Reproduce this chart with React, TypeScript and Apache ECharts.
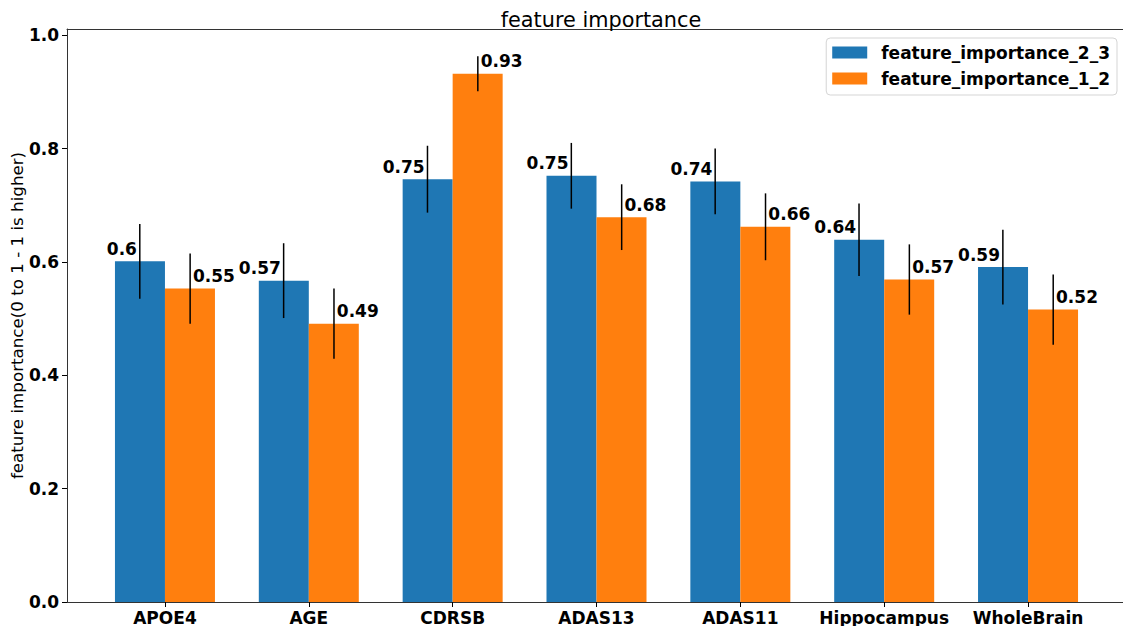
import React, { useEffect, useRef } from "react";
import * as echarts from "echarts";

const categories = ["APOE4", "AGE", "CDRSB", "ADAS13", "ADAS11", "Hippocampus", "WholeBrain"];
const fi23 = [0.601, 0.567, 0.746, 0.752, 0.742, 0.639, 0.591];
const fi12 = [0.553, 0.491, 0.932, 0.679, 0.662, 0.569, 0.516];
const err23 = [0.066, 0.066, 0.059, 0.058, 0.058, 0.064, 0.066];
const err12 = [0.062, 0.062, 0.031, 0.058, 0.059, 0.062, 0.062];
const yTicks = [0, 0.2, 0.4, 0.6, 0.8, 1.0];
const seriesNames = ["feature_importance_2_3", "feature_importance_1_2"];

const FONT = "DejaVu Sans";
const BAR_HALF = 0.175;

export default function App() {
  const ref = useRef<HTMLDivElement>(null);
  useEffect(() => {
    document.body.style.margin = "0";
    if (!ref.current) return;
    const chart = echarts.init(ref.current, undefined, { renderer: "svg" });
    const idx = categories.map((_, i) => i);
    const fmt = (v: number) => String(Math.round(v * 100) / 100);
    const errRender = (params: any, api: any) => {
      const x = api.value(0);
      const p1 = api.coord([x, api.value(1)]);
      const p2 = api.coord([x, api.value(2)]);
      return {
        type: "line",
        shape: { x1: p1[0], y1: p1[1], x2: p2[0], y2: p2[1] },
        style: { stroke: "#000", lineWidth: 1.5 },
      };
    };
    const labelCommon = {
      show: true,
      position: "top",
      distance: 4,
      fontFamily: FONT,
      fontWeight: "bold",
      fontSize: 17,
      color: "#000",
      formatter: (p: any) => fmt(p.value[1]),
    };
    chart.setOption({
      animation: false,
      title: {
        text: "feature importance",
        left: 596,
        textAlign: "center",
        top: 4,
        textStyle: { fontFamily: FONT, fontWeight: "normal", fontSize: 20.8, color: "#000" },
      },
      legend: {
        data: seriesNames,
        orient: "vertical",
        right: 6,
        top: 38,
        icon: "rect",
        itemWidth: 35,
        itemHeight: 12,
        itemGap: 9,
        padding: [6, 7, 8, 6],
        borderColor: "#d5d5d5",
        borderWidth: 1,
        borderRadius: 4,
        textStyle: {
          fontFamily: FONT,
          fontWeight: "bold",
          fontSize: 17,
          color: "#000",
          padding: [0, 0, 0, 9],
        },
      },
      grid: {
        left: 67,
        right: -3,
        top: 29,
        bottom: 24,
        outerBoundsMode: "none",
        containLabel: false,
      },
      xAxis: [
        {
          type: "value",
          min: -0.681,
          max: 6.681,
          splitLine: { show: false },
          axisLine: { show: true, onZero: false, lineStyle: { color: "#333", width: 1 } },
          axisTick: { show: true, length: 5, lineStyle: { color: "#000" }, customValues: idx },
          axisLabel: {
            customValues: idx,
            formatter: (v: number) => categories[Math.round(v)] ?? "",
            fontFamily: FONT,
            fontWeight: "bold",
            fontSize: 17,
            color: "#000",
            margin: 7,
          },
        },
        {
          type: "value",
          position: "top",
          min: -0.681,
          max: 6.681,
          splitLine: { show: false },
          axisLine: { show: true, onZero: false, lineStyle: { color: "#333", width: 1 } },
          axisTick: { show: false },
          axisLabel: { show: false },
        },
      ],
      yAxis: {
        type: "value",
        min: 0,
        max: 1.011,
        name: "feature importance(0 to 1 - 1 is higher)",
        nameLocation: "middle",
        nameGap: 42,
        nameMoveOverlap: false,
        nameTextStyle: { fontFamily: FONT, fontSize: 16.7, color: "#000" },
        splitLine: { show: false },
        axisLine: { show: true, onZero: false, lineStyle: { color: "#333", width: 1 } },
        axisTick: { show: true, length: 5, lineStyle: { color: "#000" }, customValues: yTicks },
        axisLabel: {
          customValues: yTicks,
          formatter: (v: number) => v.toFixed(1),
          fontFamily: FONT,
          fontWeight: "bold",
          fontSize: 17,
          color: "#000",
          margin: 8,
        },
      },
      series: [
        {
          name: seriesNames[0],
          type: "bar",
          barWidth: 50,
          barGap: "0%",
          itemStyle: { color: "#1f77b4" },
          label: { ...labelCommon, align: "right", offset: [-3, 0] },
          data: idx.map((i) => [i, fi23[i]]),
        },
        {
          name: seriesNames[1],
          type: "bar",
          barWidth: 50,
          barGap: "0%",
          itemStyle: { color: "#ff7f0e" },
          label: { ...labelCommon, align: "left", offset: [3, 0] },
          data: idx.map((i) => [i, fi12[i]]),
        },
        {
          name: "err23",
          type: "custom",
          renderItem: errRender,
          encode: { x: 0, y: [1, 2] },
          z: 5,
          data: idx.map((i) => [i - BAR_HALF, fi23[i] - err23[i], fi23[i] + err23[i]]),
        },
        {
          name: "err12",
          type: "custom",
          renderItem: errRender,
          encode: { x: 0, y: [1, 2] },
          z: 5,
          data: idx.map((i) => [i + BAR_HALF, fi12[i] - err12[i], fi12[i] + err12[i]]),
        },
      ],
    });
    return () => chart.dispose();
  }, []);
  return <div ref={ref} style={{ width: 1123, height: 626 }} />;
}
